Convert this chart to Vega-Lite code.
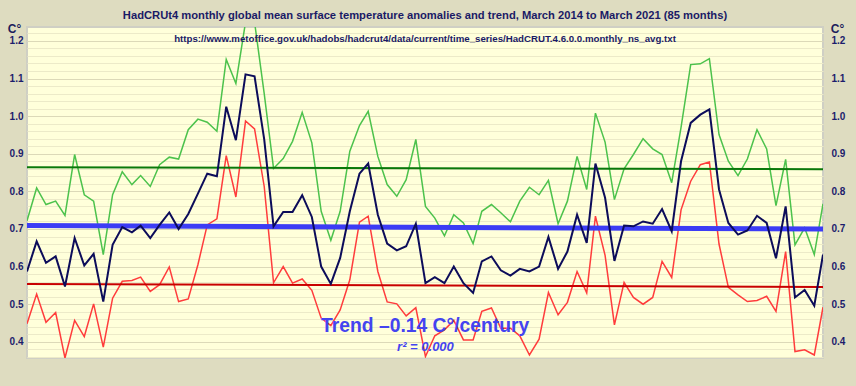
{
  "$schema": "https://vega.github.io/schema/vega-lite/v6.json",
  "width": 796,
  "height": 331,
  "autosize": {"type": "none"},
  "padding": {"left": 27, "top": 27, "right": 33, "bottom": 28},
  "background": "#dedcc0",
  "config": {
    "view": {"fill": "#ffffda", "stroke": "#cfcfc4", "strokeWidth": 2},
    "font": "Liberation Sans"
  },
  "title": {
    "text": "HadCRUt4 monthly global mean surface temperature anomalies and trend, March 2014 to March 2021 (85 months)",
    "subtitle": "https://www.metoffice.gov.uk/hadobs/hadcrut4/data/current/time_series/HadCRUT.4.6.0.0.monthly_ns_avg.txt",
    "anchor": "middle",
    "frame": "group",
    "font": "Liberation Sans",
    "fontSize": 11.2,
    "fontWeight": "bold",
    "color": "#1a1a66",
    "subtitleFont": "Liberation Sans",
    "subtitleFontSize": 9.7,
    "subtitleFontWeight": "bold",
    "subtitleColor": "#1a1a66",
    "subtitlePadding": 13,
    "offset": -22
  },
  "datasets": {
    "monthly": [
      {"date": "2014-03-01", "mean": 0.587, "upper": 0.722, "lower": 0.448},
      {"date": "2014-04-01", "mean": 0.667, "upper": 0.809, "lower": 0.527},
      {"date": "2014-05-01", "mean": 0.610, "upper": 0.765, "lower": 0.452},
      {"date": "2014-06-01", "mean": 0.627, "upper": 0.774, "lower": 0.478},
      {"date": "2014-07-01", "mean": 0.547, "upper": 0.736, "lower": 0.357},
      {"date": "2014-08-01", "mean": 0.676, "upper": 0.898, "lower": 0.457},
      {"date": "2014-09-01", "mean": 0.603, "upper": 0.791, "lower": 0.414},
      {"date": "2014-10-01", "mean": 0.634, "upper": 0.774, "lower": 0.501},
      {"date": "2014-11-01", "mean": 0.507, "upper": 0.632, "lower": 0.386},
      {"date": "2014-12-01", "mean": 0.658, "upper": 0.791, "lower": 0.516},
      {"date": "2015-01-01", "mean": 0.705, "upper": 0.852, "lower": 0.561},
      {"date": "2015-02-01", "mean": 0.691, "upper": 0.818, "lower": 0.563},
      {"date": "2015-03-01", "mean": 0.709, "upper": 0.842, "lower": 0.572},
      {"date": "2015-04-01", "mean": 0.676, "upper": 0.813, "lower": 0.534},
      {"date": "2015-05-01", "mean": 0.711, "upper": 0.871, "lower": 0.552},
      {"date": "2015-06-01", "mean": 0.744, "upper": 0.891, "lower": 0.599},
      {"date": "2015-07-01", "mean": 0.700, "upper": 0.886, "lower": 0.507},
      {"date": "2015-08-01", "mean": 0.740, "upper": 0.964, "lower": 0.514},
      {"date": "2015-09-01", "mean": 0.794, "upper": 0.992, "lower": 0.605},
      {"date": "2015-10-01", "mean": 0.847, "upper": 0.984, "lower": 0.711},
      {"date": "2015-11-01", "mean": 0.840, "upper": 0.960, "lower": 0.727},
      {"date": "2015-12-01", "mean": 1.025, "upper": 1.151, "lower": 0.895},
      {"date": "2016-01-01", "mean": 0.936, "upper": 1.087, "lower": 0.785},
      {"date": "2016-02-01", "mean": 1.111, "upper": 1.250, "lower": 0.987},
      {"date": "2016-03-01", "mean": 1.106, "upper": 1.250, "lower": 0.966},
      {"date": "2016-04-01", "mean": 0.938, "upper": 1.060, "lower": 0.813},
      {"date": "2016-05-01", "mean": 0.707, "upper": 0.861, "lower": 0.557},
      {"date": "2016-06-01", "mean": 0.745, "upper": 0.887, "lower": 0.600},
      {"date": "2016-07-01", "mean": 0.745, "upper": 0.933, "lower": 0.556},
      {"date": "2016-08-01", "mean": 0.790, "upper": 1.010, "lower": 0.567},
      {"date": "2016-09-01", "mean": 0.732, "upper": 0.929, "lower": 0.537},
      {"date": "2016-10-01", "mean": 0.600, "upper": 0.747, "lower": 0.463},
      {"date": "2016-11-01", "mean": 0.554, "upper": 0.670, "lower": 0.443},
      {"date": "2016-12-01", "mean": 0.623, "upper": 0.747, "lower": 0.485},
      {"date": "2017-01-01", "mean": 0.747, "upper": 0.907, "lower": 0.565},
      {"date": "2017-02-01", "mean": 0.847, "upper": 0.975, "lower": 0.718},
      {"date": "2017-03-01", "mean": 0.874, "upper": 1.013, "lower": 0.734},
      {"date": "2017-04-01", "mean": 0.738, "upper": 0.893, "lower": 0.587},
      {"date": "2017-05-01", "mean": 0.661, "upper": 0.818, "lower": 0.506},
      {"date": "2017-06-01", "mean": 0.643, "upper": 0.787, "lower": 0.501},
      {"date": "2017-07-01", "mean": 0.654, "upper": 0.831, "lower": 0.469},
      {"date": "2017-08-01", "mean": 0.714, "upper": 0.938, "lower": 0.491},
      {"date": "2017-09-01", "mean": 0.556, "upper": 0.760, "lower": 0.361},
      {"date": "2017-10-01", "mean": 0.572, "upper": 0.729, "lower": 0.416},
      {"date": "2017-11-01", "mean": 0.556, "upper": 0.682, "lower": 0.432},
      {"date": "2017-12-01", "mean": 0.600, "upper": 0.738, "lower": 0.457},
      {"date": "2018-01-01", "mean": 0.556, "upper": 0.716, "lower": 0.405},
      {"date": "2018-02-01", "mean": 0.530, "upper": 0.661, "lower": 0.405},
      {"date": "2018-03-01", "mean": 0.614, "upper": 0.747, "lower": 0.481},
      {"date": "2018-04-01", "mean": 0.627, "upper": 0.765, "lower": 0.490},
      {"date": "2018-05-01", "mean": 0.590, "upper": 0.743, "lower": 0.436},
      {"date": "2018-06-01", "mean": 0.576, "upper": 0.719, "lower": 0.436},
      {"date": "2018-07-01", "mean": 0.594, "upper": 0.774, "lower": 0.416},
      {"date": "2018-08-01", "mean": 0.587, "upper": 0.811, "lower": 0.365},
      {"date": "2018-09-01", "mean": 0.600, "upper": 0.791, "lower": 0.407},
      {"date": "2018-10-01", "mean": 0.679, "upper": 0.829, "lower": 0.531},
      {"date": "2018-11-01", "mean": 0.594, "upper": 0.714, "lower": 0.472},
      {"date": "2018-12-01", "mean": 0.640, "upper": 0.774, "lower": 0.505},
      {"date": "2019-01-01", "mean": 0.738, "upper": 0.893, "lower": 0.587},
      {"date": "2019-02-01", "mean": 0.663, "upper": 0.805, "lower": 0.530},
      {"date": "2019-03-01", "mean": 0.874, "upper": 1.008, "lower": 0.734},
      {"date": "2019-04-01", "mean": 0.783, "upper": 0.931, "lower": 0.630},
      {"date": "2019-05-01", "mean": 0.615, "upper": 0.778, "lower": 0.445},
      {"date": "2019-06-01", "mean": 0.709, "upper": 0.860, "lower": 0.558},
      {"date": "2019-07-01", "mean": 0.707, "upper": 0.898, "lower": 0.518},
      {"date": "2019-08-01", "mean": 0.720, "upper": 0.940, "lower": 0.500},
      {"date": "2019-09-01", "mean": 0.714, "upper": 0.913, "lower": 0.518},
      {"date": "2019-10-01", "mean": 0.753, "upper": 0.898, "lower": 0.614},
      {"date": "2019-11-01", "mean": 0.694, "upper": 0.823, "lower": 0.571},
      {"date": "2019-12-01", "mean": 0.880, "upper": 0.970, "lower": 0.751},
      {"date": "2020-01-01", "mean": 0.982, "upper": 1.137, "lower": 0.827},
      {"date": "2020-02-01", "mean": 1.004, "upper": 1.139, "lower": 0.871},
      {"date": "2020-03-01", "mean": 1.018, "upper": 1.153, "lower": 0.878},
      {"date": "2020-04-01", "mean": 0.805, "upper": 0.951, "lower": 0.660},
      {"date": "2020-05-01", "mean": 0.716, "upper": 0.880, "lower": 0.545},
      {"date": "2020-06-01", "mean": 0.685, "upper": 0.842, "lower": 0.525},
      {"date": "2020-07-01", "mean": 0.696, "upper": 0.886, "lower": 0.507},
      {"date": "2020-08-01", "mean": 0.735, "upper": 0.964, "lower": 0.510},
      {"date": "2020-09-01", "mean": 0.716, "upper": 0.913, "lower": 0.521},
      {"date": "2020-10-01", "mean": 0.622, "upper": 0.762, "lower": 0.481},
      {"date": "2020-11-01", "mean": 0.760, "upper": 0.885, "lower": 0.640},
      {"date": "2020-12-01", "mean": 0.518, "upper": 0.658, "lower": 0.374},
      {"date": "2021-01-01", "mean": 0.538, "upper": 0.703, "lower": 0.379},
      {"date": "2021-02-01", "mean": 0.496, "upper": 0.632, "lower": 0.365},
      {"date": "2021-03-01", "mean": 0.632, "upper": 0.767, "lower": 0.492}
    ],
    "trendUpper": [
      {"date": "2014-03-01", "value": 0.864},
      {"date": "2021-03-01", "value": 0.859}
    ],
    "trendLower": [
      {"date": "2014-03-01", "value": 0.554},
      {"date": "2021-03-01", "value": 0.546}
    ],
    "trendMean": [
      {"date": "2014-03-01", "value": 0.709},
      {"date": "2021-03-01", "value": 0.700}
    ],
    "trendNote": [
      {"date": "2017-08-31", "value": 0.443, "label": "Trend –0.14 C°/century"}
    ],
    "r2Note": [
      {"date": "2017-09-01", "value": 0.387, "label": "r² = 0.000"}
    ]
  },
  "data": {"name": "monthly"},
  "resolve": {"axis": {"y": "independent"}},
  "layer": [
    {
      "mark": {"type": "line", "color": "#4cc24c", "strokeWidth": 1.5, "clip": true},
      "encoding": {
        "x": {
          "field": "date", "type": "temporal",
          "scale": {"domain": [{"year": 2014, "month": 3, "date": 1}, {"year": 2021, "month": 3, "date": 1}], "nice": false},
          "axis": {
            "title": null,
            "values": [
              {"year": 2015, "month": 1, "date": 1}, {"year": 2015, "month": 7, "date": 1},
              {"year": 2016, "month": 1, "date": 1}, {"year": 2016, "month": 7, "date": 1},
              {"year": 2017, "month": 1, "date": 1}, {"year": 2017, "month": 7, "date": 1},
              {"year": 2018, "month": 1, "date": 1}, {"year": 2018, "month": 7, "date": 1},
              {"year": 2019, "month": 1, "date": 1}, {"year": 2019, "month": 7, "date": 1},
              {"year": 2020, "month": 1, "date": 1}, {"year": 2020, "month": 7, "date": 1},
              {"year": 2021, "month": 1, "date": 1}
            ],
            "labelExpr": "month(datum.value) == 0 ? timeFormat(datum.value, '%Y') : ''",
            "labelOverlap": false,
            "labelFlush": false,
            "grid": true,
            "gridColor": {"condition": {"test": "month(datum.value) == 0", "value": "#dcd9b8"}, "value": "#e8e6c4"},
            "gridWidth": 1.5,
            "ticks": false,
            "domain": false,
            "labelFont": "Liberation Sans",
            "labelFontSize": 10,
            "labelFontWeight": "bold",
            "labelColor": "#1c1c6c",
            "labelPadding": 9
          }
        },
        "y": {
          "field": "upper", "type": "quantitative",
          "scale": {"domain": [0.357, 1.237], "nice": false, "zero": false},
          "axis": {
            "orient": "left",
            "title": "C°",
            "titleAngle": 0,
            "titleX": -13,
            "titleY": 1,
            "titleAlign": "center",
            "titleBaseline": "middle",
            "titleFont": "Liberation Sans",
            "titleFontSize": 12,
            "titleFontWeight": "bold",
            "titleColor": "#1c1c5c",
            "values": [0.36, 0.38, 0.4, 0.42, 0.44, 0.46, 0.48, 0.5, 0.52, 0.54, 0.56, 0.58, 0.6, 0.62, 0.64, 0.66, 0.68, 0.7, 0.72, 0.74, 0.76, 0.78, 0.8, 0.82, 0.84, 0.86, 0.88, 0.9, 0.92, 0.94, 0.96, 0.98, 1.0, 1.02, 1.04, 1.06, 1.08, 1.1, 1.12, 1.14, 1.16, 1.18, 1.2, 1.22],
            "labelExpr": "abs(datum.value * 10 - round(datum.value * 10)) < 0.01 ? format(datum.value, '.1f') : ''",
            "labelOverlap": false,
            "labelFlush": false,
            "grid": true,
            "gridColor": {"condition": {"test": "abs(datum.value * 10 - round(datum.value * 10)) < 0.01", "value": "#dcd9b8"}, "value": "#eceac8"},
            "ticks": false,
            "domain": false,
            "labelFont": "Liberation Sans",
            "labelFontSize": 10,
            "labelFontWeight": "bold",
            "labelColor": "#1c1c6c",
            "labelPadding": 4
          }
        }
      }
    },
    {
      "mark": {"type": "line", "color": "#ff3c3c", "strokeWidth": 1.5, "clip": true},
      "encoding": {
        "x": {"field": "date", "type": "temporal", "axis": null},
        "y": {"field": "lower", "type": "quantitative", "axis": null}
      }
    },
    {
      "data": {"name": "trendUpper"},
      "mark": {"type": "line", "color": "#0a780a", "strokeWidth": 2},
      "encoding": {
        "x": {"field": "date", "type": "temporal", "axis": null},
        "y": {"field": "value", "type": "quantitative", "axis": null}
      }
    },
    {
      "data": {"name": "trendLower"},
      "mark": {"type": "line", "color": "#c80000", "strokeWidth": 2},
      "encoding": {
        "x": {"field": "date", "type": "temporal", "axis": null},
        "y": {"field": "value", "type": "quantitative", "axis": null}
      }
    },
    {
      "data": {"name": "trendMean"},
      "mark": {"type": "line", "color": "#3c3cf5", "strokeWidth": 5},
      "encoding": {
        "x": {"field": "date", "type": "temporal", "axis": null},
        "y": {"field": "value", "type": "quantitative", "axis": null}
      }
    },
    {
      "mark": {"type": "line", "color": "#0c0c5a", "strokeWidth": 2, "clip": true},
      "encoding": {
        "x": {"field": "date", "type": "temporal", "axis": null},
        "y": {
          "field": "mean", "type": "quantitative",
          "axis": {
            "orient": "right",
            "title": "C°",
            "titleAngle": 0,
            "titleX": 14,
            "titleY": 1,
            "titleAlign": "center",
            "titleBaseline": "middle",
            "titleFont": "Liberation Sans",
            "titleFontSize": 12,
            "titleFontWeight": "bold",
            "titleColor": "#1c1c5c",
            "values": [0.4, 0.5, 0.6, 0.7, 0.8, 0.9, 1.0, 1.1, 1.2],
            "format": ".1f",
            "labelFlush": false,
            "grid": false,
            "ticks": false,
            "domain": false,
            "labelFont": "Liberation Sans",
            "labelFontSize": 10,
            "labelFontWeight": "bold",
            "labelColor": "#1c1c6c",
            "labelPadding": 8
          }
        }
      }
    },
    {
      "data": {"name": "trendNote"},
      "mark": {"type": "text", "font": "Liberation Sans", "fontSize": 19.3, "fontWeight": "bold", "color": "#4444f0", "align": "center", "baseline": "middle"},
      "encoding": {
        "x": {"field": "date", "type": "temporal", "axis": null},
        "y": {"field": "value", "type": "quantitative", "axis": null},
        "text": {"field": "label"}
      }
    },
    {
      "data": {"name": "r2Note"},
      "mark": {"type": "text", "font": "Liberation Sans", "fontSize": 13, "fontWeight": "bold", "fontStyle": "italic", "color": "#4444f0", "align": "center", "baseline": "middle"},
      "encoding": {
        "x": {"field": "date", "type": "temporal", "axis": null},
        "y": {"field": "value", "type": "quantitative", "axis": null},
        "text": {"field": "label"}
      }
    }
  ]
}
